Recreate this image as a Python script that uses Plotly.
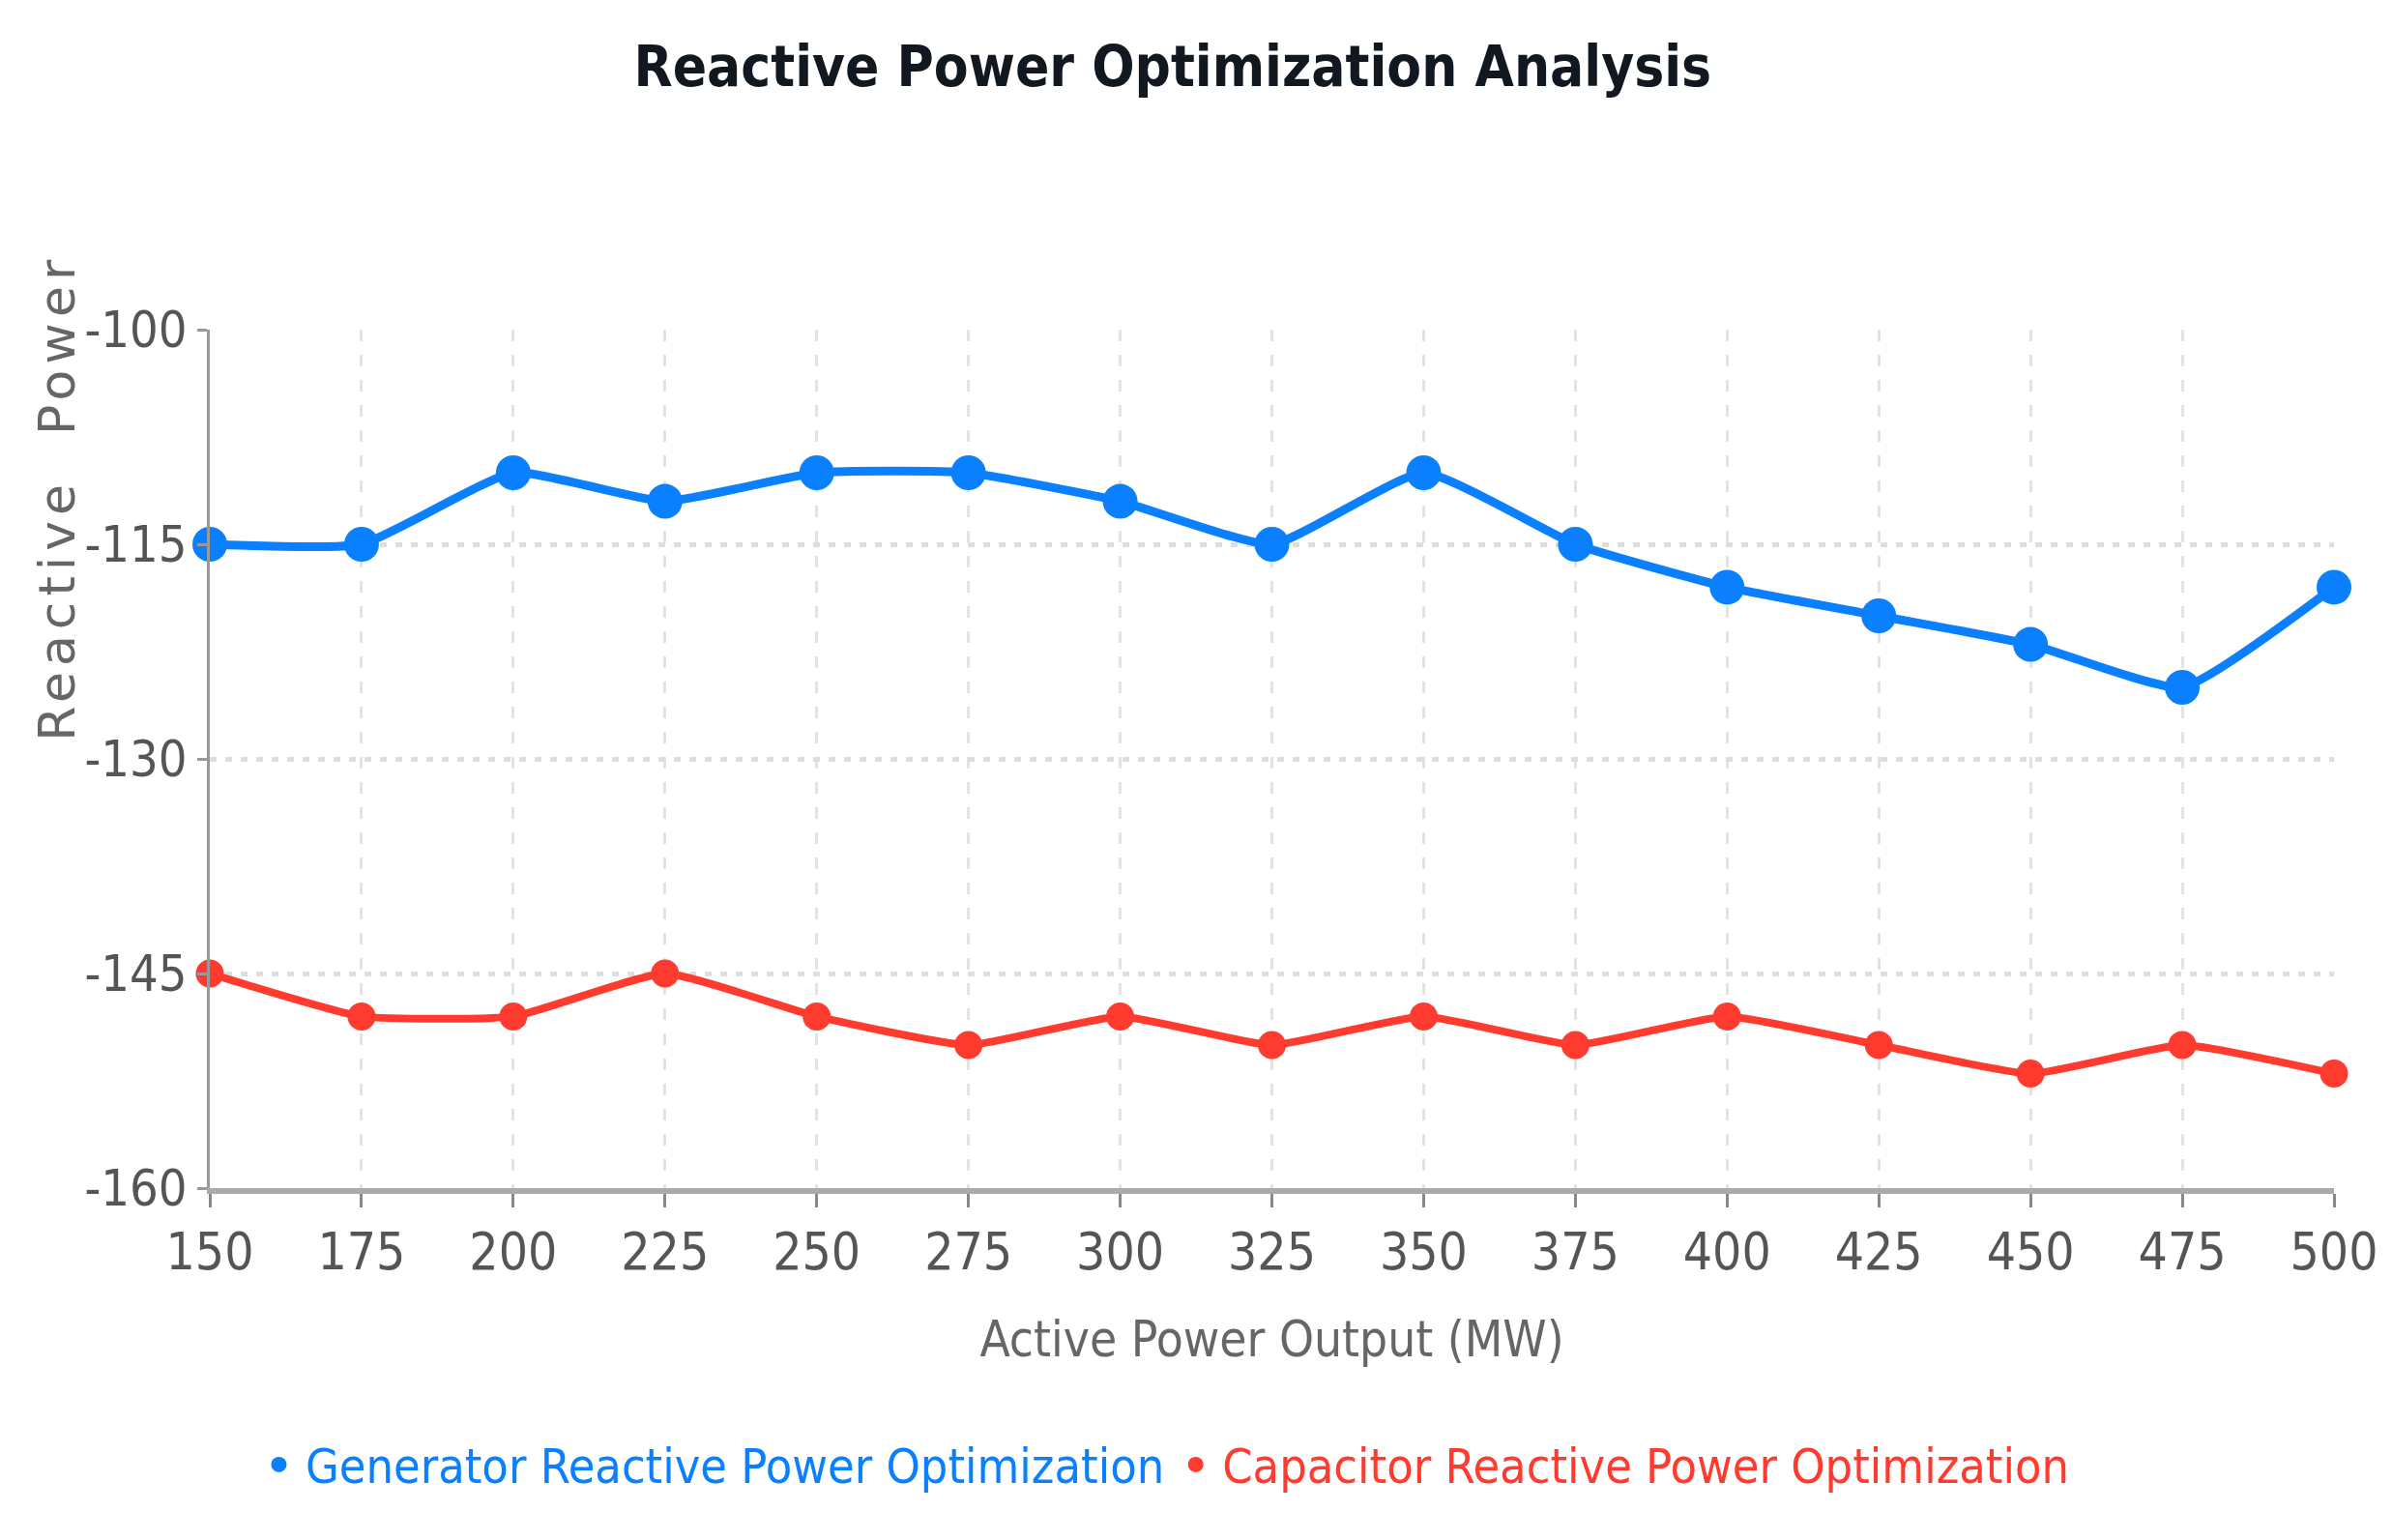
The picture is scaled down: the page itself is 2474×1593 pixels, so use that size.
import plotly.graph_objects as go

# active power output (MW)
active_power = [150, 175, 200, 225, 250, 275, 300, 325, 350, 375, 400, 425, 450, 475, 500]

generator_q = [-115, -115, -110, -112, -110, -110, -112, -115, -110, -115, -118, -120, -122, -125, -118]
capacitor_q = [-145, -148, -148, -145, -148, -150, -148, -150, -148, -150, -148, -150, -152, -150, -152]

y_ticks = [-100, -115, -130, -145, -160]
y_tick_text = ["-100", "-115", "-130", "-145", "-160"]

gen_name = "Generator Reactive Power Optimization"
cap_name = "Capacitor Reactive Power Optimization"

BLUE = "#0a80ff"
RED = "#ff3b30"
NARROW = "DejaVu Sans Condensed, Liberation Sans Narrow, sans-serif"

fig = go.Figure()

fig.add_trace(go.Scatter(
    x=active_power, y=generator_q,
    mode="lines+markers", showlegend=False,
    line=dict(color=BLUE, width=9, shape="spline", smoothing=0.45),
    marker=dict(color=BLUE, size=36),
    cliponaxis=False,
))
fig.add_trace(go.Scatter(
    x=active_power, y=capacitor_q,
    mode="lines+markers", showlegend=False,
    line=dict(color=RED, width=8, shape="spline", smoothing=0.45),
    marker=dict(color=RED, size=29),
    cliponaxis=False,
))

# legend entries: marker only, coloured text
fig.add_trace(go.Scatter(
    x=[None], y=[None], mode="markers",
    name="<span style='color:%s'>%s</span>" % (BLUE, gen_name),
    marker=dict(color=BLUE, size=36),
))
fig.add_trace(go.Scatter(
    x=[None], y=[None], mode="markers",
    name="<span style='color:%s'>%s</span>" % (RED, cap_name),
    marker=dict(color=RED, size=29),
))

fig.update_layout(
    width=2474, height=1593,
    paper_bgcolor="white", plot_bgcolor="white",
    margin=dict(l=209, r=68, t=333, b=372),
    title=dict(
        text="<b>Reactive Power Optimization Analysis</b>",
        x=0.487, xanchor="center", y=0.962, yanchor="middle",
        font=dict(family=NARROW, size=58, color="#111820"),
    ),
    xaxis=dict(
        range=[150, 500],
        tickvals=active_power,
        showgrid=True, gridcolor="#e3e3e3", gridwidth=3, griddash="12px,14px",
        showline=True, linecolor="#aaaaaa", linewidth=6,
        ticks="outside", ticklen=14, tickwidth=3, tickcolor="#888888",
        tickfont=dict(family=NARROW, size=53, color="#555555"),
        title=dict(text="Active Power Output (MW)", standoff=46,
                   font=dict(family=NARROW, size=51, color="#666666")),
        zeroline=False, automargin=False,
    ),
    yaxis=dict(
        range=[-160, -100],
        tickvals=y_ticks, ticktext=y_tick_text,
        showgrid=True, gridcolor="#dedede", gridwidth=5, griddash="7px,9px",
        showline=True, linecolor="#999999", linewidth=3,
        ticks="outside", ticklen=10, tickwidth=3, tickcolor="#999999",
        tickfont=dict(family=NARROW, size=52, color="#555555"),
        zeroline=False, automargin=False,
    ),
    legend=dict(
        orientation="h",
        x=0.02, xanchor="left", y=-0.322, yanchor="middle",
        font=dict(family=NARROW, size=50),
        itemwidth=45,
    ),
    annotations=[dict(
        text="<span style='letter-spacing:6px'>Reactive  Power</span>",
        textangle=-90,
        xref="paper", yref="paper", x=-0.072, y=0.804,
        xanchor="center", yanchor="middle", showarrow=False,
        font=dict(family="DejaVu Sans", size=52, color="#666666"),
    )],
)

fig.write_html("out.html")
